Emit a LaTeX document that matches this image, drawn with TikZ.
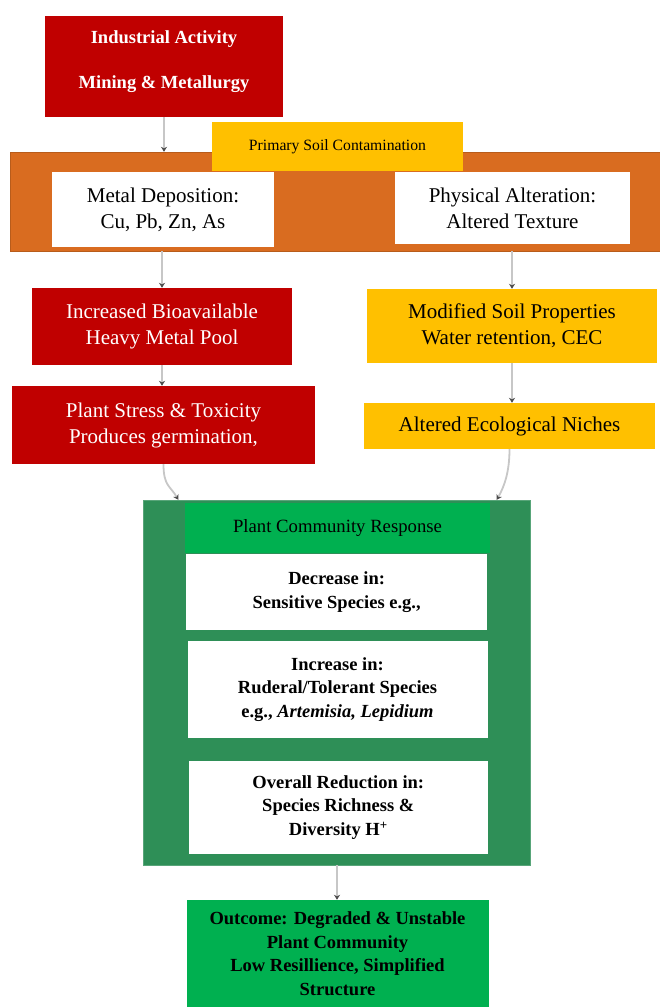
\documentclass[tikz,border=0pt]{standalone}
\usepackage{fontspec}
\setmainfont{Liberation Serif}
\usetikzlibrary{arrows.meta,positioning,calc}
\definecolor{darkred}{RGB}{192,0,0}
\definecolor{amber}{RGB}{255,192,0}
\definecolor{rust}{RGB}{217,108,32}
\definecolor{seagreen}{RGB}{46,143,87}
\definecolor{leaf}{RGB}{0,176,80}

\begin{document}
\begin{tikzpicture}[x=1pt,y=-1pt,
  sz/.style 2 args={inner sep=0pt,align=center,minimum width=#1pt,minimum height=#2pt},
  txt/.style={font=\fontsize{21}{26}\selectfont},
  bld/.style={font=\fontsize{18.5}{23.5}\selectfont\bfseries},
  redbox/.style={fill=darkred,text=white,txt},
  ylwbox/.style={fill=amber,txt},
  wbox/.style={fill=white,txt},
  arr/.style={draw=black!22,line width=1.8pt,-{Stealth[color=black!70,length=5pt,width=6pt]}}]
  \useasboundingbox (0,0) rectangle (660,1007);
  % top part
  \node[redbox,sz={238}{101},text depth=13pt,font=\fontsize{18.5}{22}\selectfont\bfseries] (ind) at (164,66.5) {Industrial Activity\\[23pt]Mining \& Metallurgy};
  \node[draw=rust!85!black,fill=rust,sz={650}{99}] (soil) at (335.5,201.5) {};
  \node[fill=amber,sz={251}{49},font=\fontsize{15.7}{19}\selectfont] (prim) at (337.5,146.5) {Primary Soil Contamination};
  \node[wbox,sz={222}{75}] (metal) at (163,209.5) {Metal Deposition:\\Cu, Pb, Zn, As};
  \node[wbox,sz={235}{72}] (phys) at (512.5,208) {Physical Alteration:\\Altered Texture};

  \node[redbox,sz={260}{77}] (bio) at (162,326.5) {Increased Bioavailable\\Heavy Metal Pool};
  \node[redbox,sz={303}{78}] (stress) at (163.5,425) {Plant Stress \& Toxicity\\Produces germination,};
  \node[ylwbox,sz={290}{74}] (mod) at (512,326) {Modified Soil Properties\\Water retention, CEC};
  \node[ylwbox,sz={291}{46}] (niche) at (509.5,426) {Altered Ecological Niches};

  % community response
  \node[draw=seagreen!80!white,fill=seagreen,sz={387}{365}] (plant) at (337,682.5) {};
  \node[fill=leaf,sz={305}{50},font=\fontsize{18.7}{23}\selectfont] (resp) at (337.5,528) {Plant Community Response};
  \node[wbox,bld,sz={301}{76}] (dec) at (336.7,592) {Decrease in:\\Sensitive Species e.g.,};
  \node[wbox,bld,sz={300}{97}] (inc) at (337.5,689.5) {Increase in:\\Ruderal/Tolerant Species\\e.g., \textit{Artemisia, Lepidium}};
  \node[wbox,bld,sz={299}{93}] (loss) at (338.3,807.5) {Overall Reduction in:\\Species Richness \&\\Diversity H\textsuperscript{+}};
  \node[fill=leaf,bld,sz={302}{107}] (out) at (337.5,953.5) {Outcome: Degraded \& Unstable\\Plant Community\\Low Resillience, Simplified\\Structure};

  \draw[arr] (ind.south) -- (ind.south |- soil.north);
  \draw[arr] (bio.north |- soil.south) -- (bio.north);
  \draw[arr] (bio.south) -- (bio.south |- stress.north);
  \draw[arr] (mod.north |- soil.south) -- (mod.north);
  \draw[arr] (mod.south) -- (mod.south |- niche.north);
  \draw[arr] (stress.south) .. controls +(0,22) and +(-8,-14) .. ([xshift=35pt]plant.north west);
  \draw[arr] (niche.south) .. controls +(0,22) and +(8,-14) .. ([xshift=-34pt]plant.north east);
  \draw[arr] (plant.south) -- (plant.south |- out.north);
\end{tikzpicture}
\end{document}
